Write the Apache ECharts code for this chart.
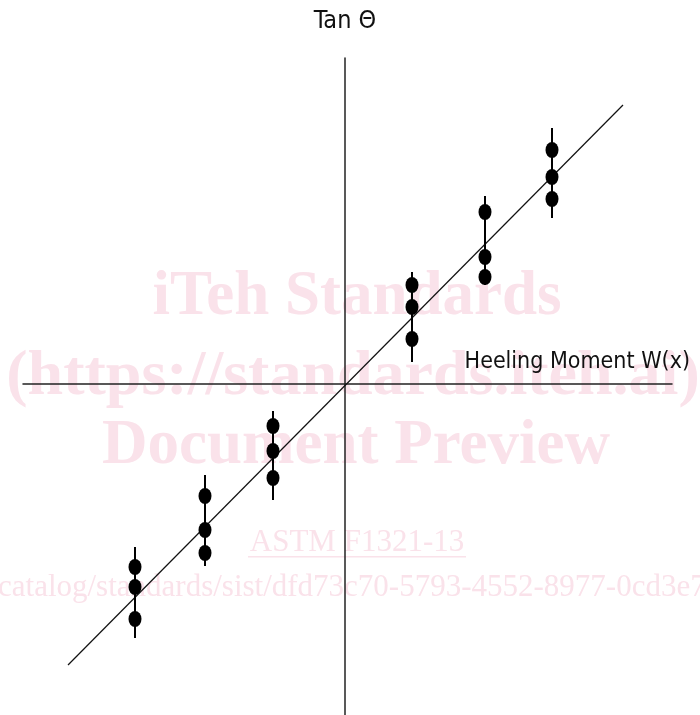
<!DOCTYPE html>
<html>
<head>
<meta charset="utf-8">
<script src="https://cdn.jsdelivr.net/npm/echarts@6/dist/echarts.min.js"></script>
<style>html,body{margin:0;padding:0;background:#fff}#c{width:700px;height:715px}</style>
</head>
<body>
<div id="c"></div>
<script>
// Group positions along the heeling-moment axis
var groupX = [-2.10, -1.40, -0.72, 0.67, 1.40, 2.07];
// Three measurements of tan(theta) per group
var groupY = [
  [-1.83, -2.03, -2.35],
  [-1.12, -1.46, -1.69],
  [-0.42, -0.67, -0.94],
  [0.99, 0.77, 0.45],
  [1.72, 1.27, 1.07],
  [2.34, 2.07, 1.85]
];
// Error bar extents (top, bottom) per group
var barTop = [-1.63, -0.91, -0.27, 1.12, 1.88, 2.56];
var barBottom = [-2.54, -1.82, -1.16, 0.22, 0.99, 1.66];
// Fitted line end points
var fitX = [-2.77, 2.78];
var fitY = [-2.81, 2.79];
// Labels
var xAxisLabel = 'Heeling Moment W(x)';
var yAxisLabel = 'Tan \u0398';
var watermark = ['iTeh Standards', '(https://standards.iteh.ai)', 'Document Preview'];
var watermark2 = ['ASTM F1321-13', 'catalog/standards/sist/dfd73c70-5793-4552-8977-0cd3e7'];

var pts = [];
groupX.forEach(function (x, i) { groupY[i].forEach(function (y) { pts.push([x, y]); }); });
var bars = groupX.map(function (x, i) { return [x, barTop[i], barBottom[i]]; });
var fit = fitX.map(function (x, i) { return [x, fitY[i]]; });

var chart = echarts.init(document.getElementById('c'));
var wmColor = '#fae2ea';
chart.setOption({
  animation: false,
  backgroundColor: '#fff',
  grid: { left: 23, right: 28, top: 58, bottom: 0 },
  xAxis: {
    type: 'value', min: -3.22, max: 3.27,
    axisLine: { onZero: true, lineStyle: { color: '#222', width: 1.5 } },
    axisTick: { show: false }, axisLabel: { show: false }, splitLine: { show: false }
  },
  yAxis: {
    type: 'value', min: -3.31, max: 3.26,
    axisLine: { onZero: true, lineStyle: { color: '#222', width: 1.5 } },
    axisTick: { show: false }, axisLabel: { show: false }, splitLine: { show: false }
  },
  graphic: [
    { type: 'text', z: 0, x: 357, y: 298, style: { text: watermark[0], fill: wmColor, font: 'bold 63px "Liberation Serif"', textAlign: 'center', textVerticalAlign: 'middle' } },
    { type: 'text', z: 0, x: 353, y: 377, style: { text: watermark[1], fill: wmColor, font: 'bold 64px "Liberation Serif"', textAlign: 'center', textVerticalAlign: 'middle' } },
    { type: 'text', z: 0, x: 356, y: 447, style: { text: watermark[2], fill: wmColor, font: 'bold 63px "Liberation Serif"', textAlign: 'center', textVerticalAlign: 'middle' } },
    { type: 'text', z: 0, x: 357, y: 543, style: { text: watermark2[0], fill: wmColor, font: '31px "Liberation Serif"', textAlign: 'center', textVerticalAlign: 'middle' } },
    { type: 'rect', z: 0, shape: { x: 248, y: 556, width: 218, height: 1.5 }, style: { fill: wmColor } },
    { type: 'text', z: 0, x: -2, y: 588, style: { text: watermark2[1], fill: wmColor, font: '31px "Liberation Serif"', textAlign: 'left', textVerticalAlign: 'middle' } },
    { type: 'text', z: 100, x: 345, y: 21, style: { text: yAxisLabel, fill: '#111', font: '25px "DejaVu Sans Condensed", "DejaVu Sans"', textAlign: 'center', textVerticalAlign: 'middle' } },
    { type: 'text', z: 100, x: 690, y: 362, style: { text: xAxisLabel, fill: '#111', font: '23px "DejaVu Sans Condensed", "DejaVu Sans"', textAlign: 'right', textVerticalAlign: 'middle' } }
  ],
  series: [
    {
      type: 'line', data: fit, symbol: 'none', z: 5,
      lineStyle: { color: '#111', width: 1.2 }
    },
    {
      type: 'custom', z: 6, data: bars,
      renderItem: function (params, api) {
        var a = api.coord([api.value(0), api.value(1)]);
        var b = api.coord([api.value(0), api.value(2)]);
        return { type: 'line', shape: { x1: a[0], y1: a[1], x2: b[0], y2: b[1] }, style: { stroke: '#000', lineWidth: 2 } };
      }
    },
    {
      type: 'scatter', z: 7, data: pts, symbol: 'circle', symbolSize: [13, 16],
      itemStyle: { color: '#000', opacity: 1 }
    }
  ]
});
</script>
</body>
</html>
